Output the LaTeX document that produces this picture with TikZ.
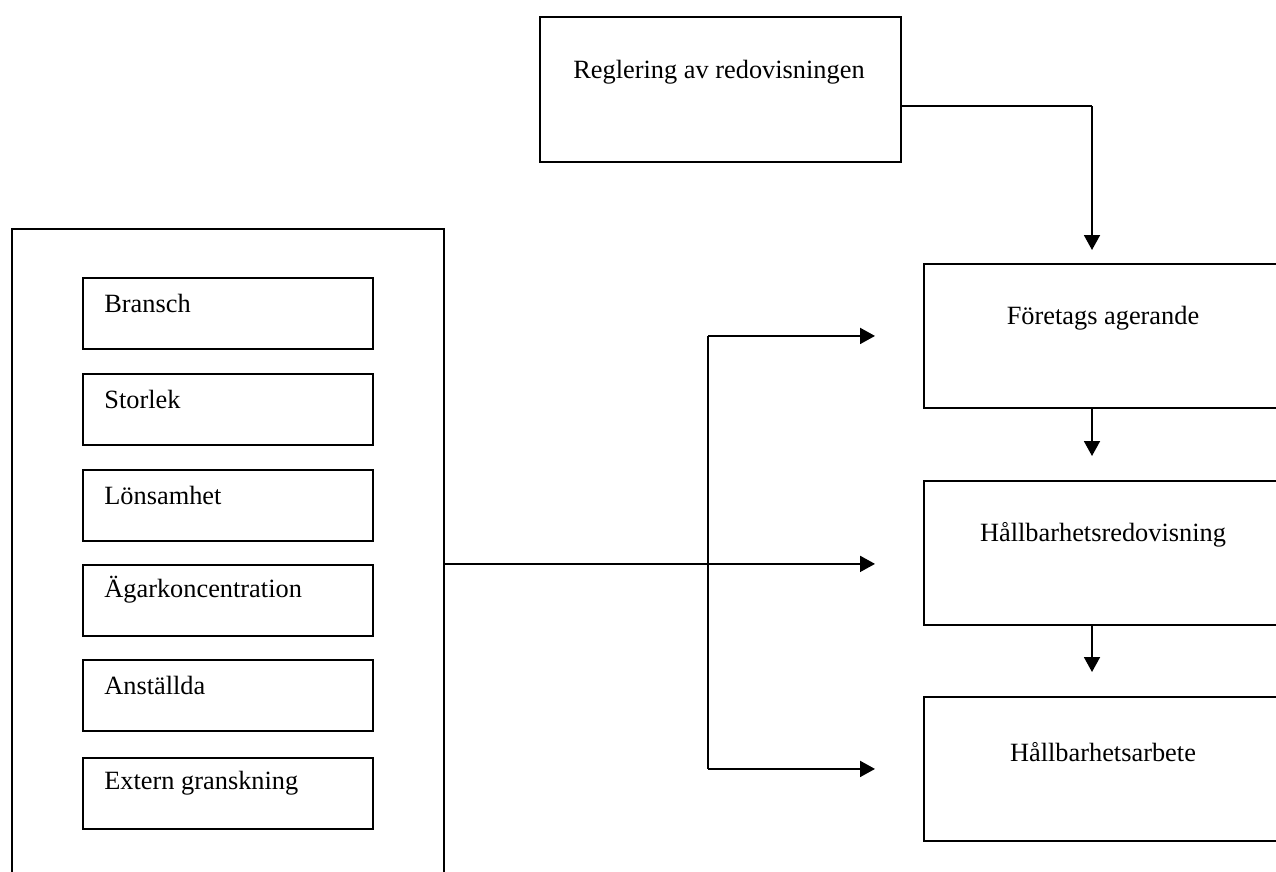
\documentclass[tikz,border=0pt]{standalone}
\usepackage{fontspec}
\setmainfont{Liberation Serif}
\usetikzlibrary{arrows.meta}

\tikzset{
  frame/.style={draw, line width=1.1pt, rectangle, inner sep=0pt, anchor=north west},
  factbox/.style={frame, minimum width=5.8cm, minimum height=1.42cm},
  stagebox/.style={frame, minimum width=7.6cm, minimum height=2.88cm},
  word/.style={inner sep=0pt, font=\fontsize{15}{18}\selectfont},
  flow/.style={line width=1.1pt, -{Triangle[length=0.3cm,width=0.32cm]}},
  feed/.style={line width=0.6pt}
}

\begin{document}
\begin{tikzpicture}[x=0.02cm, y=-0.02cm]
  \useasboundingbox (0,0) rectangle (1276,872);
  \clip (0,0) rectangle (1276,872);

  % regulation box
  \node [frame, minimum width=7.22cm, minimum height=2.9cm] (rule) at (539,16) {};
  \node [word] (ruletext) at (719,72) {Reglering av redovisningen};

  % outcome chain
  \node [stagebox] (act) at (923,263) {};
  \node [stagebox] (report) at (923,480) {};
  \node [stagebox] (work) at (923,696) {};
  \node [word] (acttext) at (1103,318) {Företags agerande};
  \node [word] (reporttext) at (1103,535) {Hållbarhetsredovisning};
  \node [word] (worktext) at (1103,752) {Hållbarhetsarbete};

  % company factors
  \node [frame, minimum width=8.64cm, minimum height=13.4cm] (factors) at (11,228) {};
  \foreach \y/\name/\txt in {277/f1/Bransch, 373/f2/Storlek, 469/f3/Lönsamhet,
                             564/f4/Ägarkoncentration, 659/f5/Anställda, 757/f6/Extern granskning} {
    \node [factbox] (\name) at (82,\y) {};
    \node [word, anchor=west] (\name text) at (104,\y+26) {\txt};
  }

  % connectors
  \coordinate (bend) at (1092,106);
  \coordinate (fork) at (708,0);
  \draw [feed] (rule.east |- bend) -- (bend);
  \draw [flow, shorten >=0.26cm] (bend) -- (bend |- act.north);
  \draw [flow, shorten >=0.48cm] (bend |- act.south) -- (bend |- report.north);
  \draw [flow, shorten >=0.48cm] (bend |- report.south) -- (bend |- work.north);

  \draw [flow, shorten >=0.96cm] (factors.east) -- (factors.east -| report.west);
  \draw [feed] (fork |- act.west) -- (fork |- work.west);
  \draw [flow, shorten >=0.96cm] (fork |- act.west) -- (act.west);
  \draw [flow, shorten >=0.96cm] (fork |- work.west) -- (work.west);
\end{tikzpicture}
\end{document}
